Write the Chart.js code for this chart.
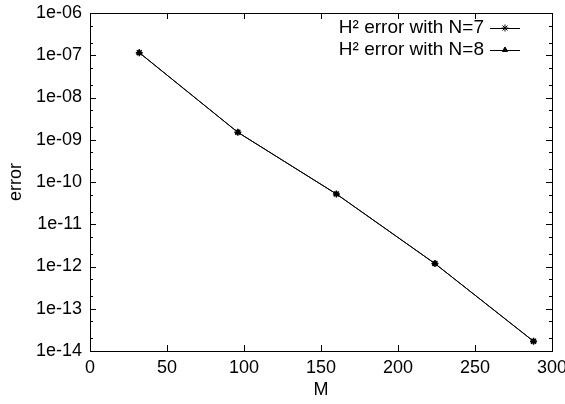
<!DOCTYPE html>
<html>
<head>
<meta charset="utf-8">
<script src="https://cdn.jsdelivr.net/npm/chart.js@4/dist/chart.umd.min.js"></script>
<style>
  html, body { margin: 0; padding: 0; background: #fff; }
  #wrap { width: 565px; height: 404px; }
</style>
</head>
<body>
<div id="wrap"><canvas id="errChart"></canvas></div>
<script>
const mValues = [32, 96, 160, 224, 288];
const errN7 = [1.15e-7, 1.5e-9, 5.2e-11, 1.17e-12, 1.7e-14];
const errN8 = [1.15e-7, 1.5e-9, 5.2e-11, 1.17e-12, 1.7e-14];
const seriesNames = ['H\u00b2 error with N=7', 'H\u00b2 error with N=8'];
const xTicks = [0, 50, 100, 150, 200, 250, 300];
const yTicks = [1e-14, 1e-13, 1e-12, 1e-11, 1e-10, 1e-9, 1e-8, 1e-7, 1e-6];

const FONT = 'Liberation Sans, Arial, Helvetica, sans-serif';

function toPoints(ys) {
    return mValues.map((m, i) => ({ x: m, y: ys[i] }));
}

function fmtExp(v) {
    const e = Math.round(Math.log10(v));
    const a = Math.abs(e);
    return '1e' + (e < 0 ? '-' : '+') + (a < 10 ? '0' + a : a);
}

// gnuplot style frame, inward ticks and legend
const framePlugin = {
    id: 'frame',
    afterDraw(chart) {
        const ctx = chart.ctx;
        const a = chart.chartArea;
        const xs = chart.scales.x, ys = chart.scales.y;
        ctx.save();
        ctx.strokeStyle = '#000';
        ctx.lineWidth = 1;
        ctx.strokeRect(Math.round(a.left) + 0.5, Math.round(a.top) + 0.5,
            Math.round(a.right - a.left), Math.round(a.bottom - a.top));
        ctx.beginPath();
        xTicks.forEach(v => {
            const px = Math.round(xs.getPixelForValue(v)) + 0.5;
            ctx.moveTo(px, a.bottom); ctx.lineTo(px, a.bottom - 6);
            ctx.moveTo(px, a.top); ctx.lineTo(px, a.top + 6);
        });
        yTicks.forEach(v => {
            const py = Math.round(ys.getPixelForValue(v)) + 0.5;
            ctx.moveTo(a.left, py); ctx.lineTo(a.left + 6, py);
            ctx.moveTo(a.right, py); ctx.lineTo(a.right - 6, py);
            [2, 5].forEach(k => {
                const mv = v * k;
                if (mv < 1e-6) {
                    const my = Math.round(ys.getPixelForValue(mv)) + 0.5;
                    ctx.moveTo(a.left, my); ctx.lineTo(a.left + 3, my);
                    ctx.moveTo(a.right, my); ctx.lineTo(a.right - 3, my);
                }
            });
        });
        ctx.stroke();

        // legend: text right aligned, then line sample with marker
        ctx.font = '19px ' + FONT;
        ctx.fillStyle = '#000';
        ctx.textAlign = 'right';
        ctx.textBaseline = 'middle';
        chart.data.datasets.forEach((ds, i) => {
            const y = a.top + 15 + i * 22;
            const x1 = a.right - 62, x2 = a.right - 32;
            ctx.fillText(ds.label, x1 - 6, y);
            ctx.beginPath();
            ctx.moveTo(x1, y + 0.5); ctx.lineTo(x2, y + 0.5);
            ctx.stroke();
            Chart.helpers.drawPoint(ctx, {
                pointStyle: ds.pointStyle, radius: ds.pointRadius,
                rotation: 0, borderWidth: 1
            }, (x1 + x2) / 2, y);
            ctx.fillStyle = '#000';
        });
        ctx.restore();
    }
};

const data = {
    datasets: [{
        label: seriesNames[0],
        data: toPoints(errN7),
        borderColor: '#000',
        backgroundColor: '#000',
        borderWidth: 1,
        pointStyle: 'star',
        pointRadius: 3.5,
        pointBorderWidth: 1.5
    }, {
        label: seriesNames[1],
        data: toPoints(errN8),
        borderColor: '#000',
        backgroundColor: '#000',
        borderWidth: 1,
        pointStyle: 'triangle',
        pointRadius: 3,
        pointBorderWidth: 1
    }]
};

const config = {
    type: 'line',
    data: data,
    options: {
        responsive: true,
        maintainAspectRatio: false,
        animation: false,
        layout: { padding: { left: 0, right: 13, top: 13, bottom: 0 } },
        scales: {
            x: {
                type: 'linear',
                min: 0,
                max: 300,
                afterBuildTicks: s => { s.ticks = xTicks.map(v => ({ value: v })); },
                afterFit: s => { s.height = 53; s.paddingLeft = 0; s.paddingRight = 0; },
                grid: { display: false, drawTicks: false },
                border: { display: false },
                ticks: {
                    color: '#000',
                    padding: 6,
                    maxRotation: 0,
                    font: { family: FONT, size: 18 }
                },
                title: {
                    display: true,
                    text: 'M',
                    color: '#000',
                    font: { family: FONT, size: 18 },
                    padding: { top: 0, bottom: 3 }
                }
            },
            y: {
                type: 'logarithmic',
                min: 1e-14,
                max: 1e-6,
                afterBuildTicks: s => { s.ticks = yTicks.map(v => ({ value: v })); },
                afterFit: s => { s.width = 90; s.paddingTop = 0; s.paddingBottom = 0; },
                grid: { display: false, drawTicks: false },
                border: { display: false },
                ticks: {
                    color: '#000',
                    padding: 8,
                    font: { family: FONT, size: 18 },
                    callback: v => fmtExp(v)
                },
                title: {
                    display: true,
                    text: 'error',
                    color: '#000',
                    font: { family: FONT, size: 18 },
                    padding: { top: 5, bottom: 0 }
                }
            }
        },
        plugins: {
            legend: { display: false },
            tooltip: { enabled: false }
        }
    },
    plugins: [framePlugin]
};

var errChart = new Chart(document.getElementById('errChart'), config);
</script>
</body>
</html>
